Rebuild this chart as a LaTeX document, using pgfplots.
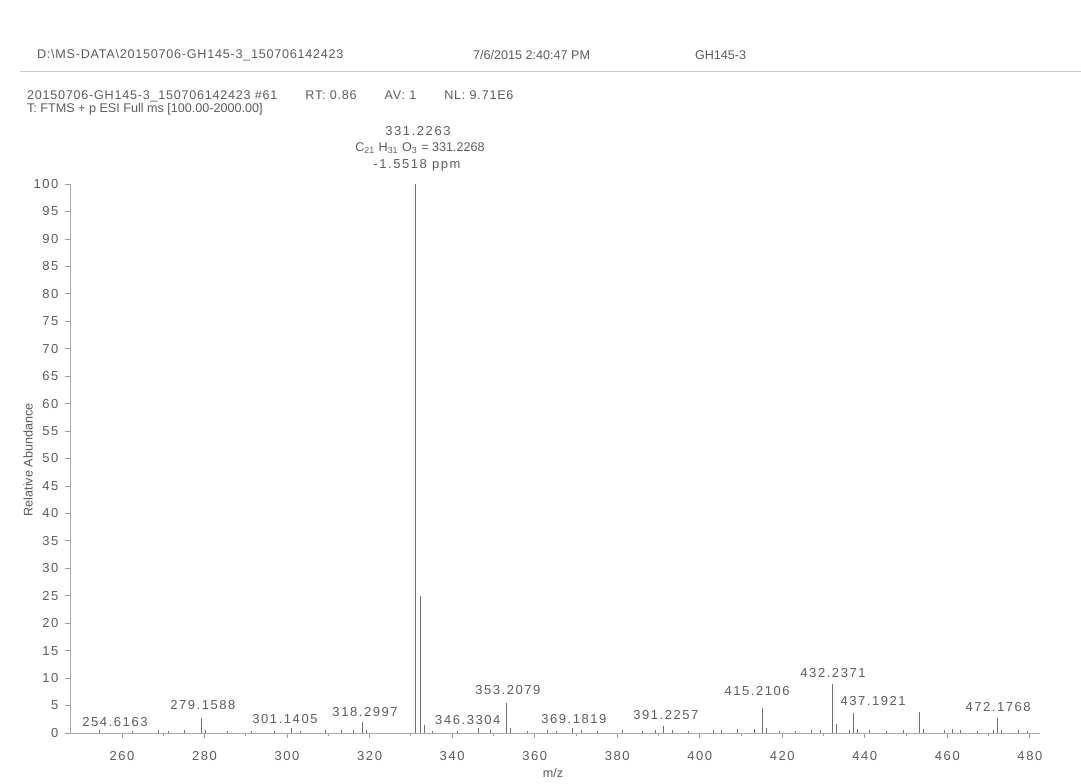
\documentclass[border=0pt]{standalone}
\usepackage{fontspec}
\setmainfont{Liberation Sans}
\newfontfamily\lsp[LetterSpace=12]{Liberation Sans}
\newfontfamily\hsp[LetterSpace=6]{Liberation Sans}
\usepackage{pgfplots}
\usepackage{pgfplotstable}
\pgfplotsset{compat=1.18}
\definecolor{ink}{HTML}{5C5C5C}
\definecolor{peak}{HTML}{707070}
\definecolor{rule}{HTML}{C8C8C8}

% centroid spectrum: m/z, relative abundance
\pgfplotstableread{
mz ab
254.62 0.6
262.6 0.3
268.9 0.5
271.2 0.4
275.1 0.6
279.1588 2.8
280.16 0.5
285.5 0.3
291.3 0.4
297.0 0.4
301.1405 0.9
303.2 0.3
309.3 0.5
313.2 0.6
316.1 0.5
318.2997 2.0
319.3 0.5
331.2263 100
332.2297 25
333.23 1.5
335.2 0.4
341.3 0.4
346.3304 1.0
349.2 0.5
353.2079 5.5
354.21 1.0
358.2 0.4
363.2 0.5
365.2 0.4
369.1819 1.0
371.3 0.5
375.2 0.4
381.3 0.5
386.2 0.4
389.2 0.6
391.2257 1.3
393.3 0.5
397.2 0.4
403.3 0.5
405.2 0.6
409.2 0.7
413.2 0.8
415.2106 4.6
416.21 1.0
419.3 0.4
423.3 0.4
427.2 0.5
429.2 0.6
432.2371 9.0
433.24 1.6
436.2 0.5
437.1921 3.6
438.19 0.8
441.2 0.5
445.2 0.4
449.3 0.5
453.3 3.8
454.3 0.7
459.2 0.5
461.2 0.8
463.2 0.5
467.3 0.4
471.2 0.6
472.1768 2.7
473.18 0.6
477.2 0.5
479.3 0.4
}\spectrum

\begin{document}
\begin{tikzpicture}[font=\fontsize{6.3}{7.5}\selectfont, text=ink]
\useasboundingbox (0,0) rectangle (540.5pt,391.5pt);

\begin{axis}[
  at={(35.2pt,25pt)}, anchor=south west,
  scale only axis, width=484.9pt, height=274.5pt,
  xmin=247.5, xmax=482.5, ymin=0, ymax=100,
  axis x line*=bottom, axis y line*=left,
  axis line style={draw=peak!60, line width=0.5pt},
  xtick={260,280,...,480}, ytick={0,5,...,100},
  minor x tick num=1,
  tick align=outside, major tick length=2.5pt, minor tick length=1.5pt,
  tick style={draw=peak!70, line width=0.4pt},
  ticklabel style={font=\lsp\fontsize{6.5}{7.5}\selectfont, text=ink},
  /pgf/number format/assume math mode=true,
  xticklabel style={yshift=-3pt},
  clip=false,
]
\addplot[ycomb, draw=peak, line width=0.5pt, no marks] table[x=mz, y=ab] {\spectrum};

% peak labels
\begin{scope}[font=\lsp\fontsize{6.5}{7.5}\selectfont]
\node at (axis cs:258.3,2.0) {254.6163};
\node at (axis cs:279.6,5.1) {279.1588};
\node at (axis cs:299.5,2.55) {301.1405};
\node at (axis cs:318.9,3.8) {318.2997};
\node at (axis cs:343.8,2.4) {346.3304};
\node at (axis cs:353.5,7.8) {353.2079};
\node at (axis cs:369.5,2.5) {369.1819};
\node at (axis cs:391.8,3.3) {391.2257};
\node at (axis cs:413.9,7.7) {415.2106};
\node at (axis cs:432.3,10.9) {432.2371};
\node at (axis cs:442.0,5.8) {437.1921};
\node at (axis cs:472.3,4.7) {472.1768};
\end{scope}
\end{axis}

% page header and annotations, positioned in pixel units from the top-left
\begin{scope}[x=0.5pt, y=-0.5pt, yshift=391.5pt]
  \node[anchor=west, font=\hsp\fontsize{6.3}{7.5}\selectfont] at (30,55) {D:\textbackslash MS-DATA\textbackslash 20150706-GH145-3\_150706142423};
  \node[anchor=west] at (466,55) {7/6/2015 2:40:47 PM};
  \node[anchor=west] at (688,55) {GH145-3};
  \draw[rule, line width=0.5pt] (20,72) -- (1081,72);
  \node[anchor=west, font=\hsp\fontsize{6.3}{7.5}\selectfont] at (20,96) {20150706-GH145-3\_150706142423 \#61\hspace{14pt}RT: 0.86\hspace{14pt}AV: 1\hspace{14pt}NL: 9.71E6};
  \node[anchor=west] at (20,109) {T: FTMS + p ESI Full ms [100.00-2000.00]};
  \node[font=\lsp\fontsize{6.5}{7.5}\selectfont] at (418,131) {331.2263};
  \node at (420,148) {C\textsubscript{21} H\textsubscript{31} O\textsubscript{3} = 331.2268};
  \node[font=\lsp\fontsize{6.5}{7.5}\selectfont] at (417,165) {-1.5518 ppm};
  \node[rotate=90] at (28,460) {Relative Abundance};
  \node at (553,773) {m/z};
\end{scope}
\end{tikzpicture}
\end{document}
